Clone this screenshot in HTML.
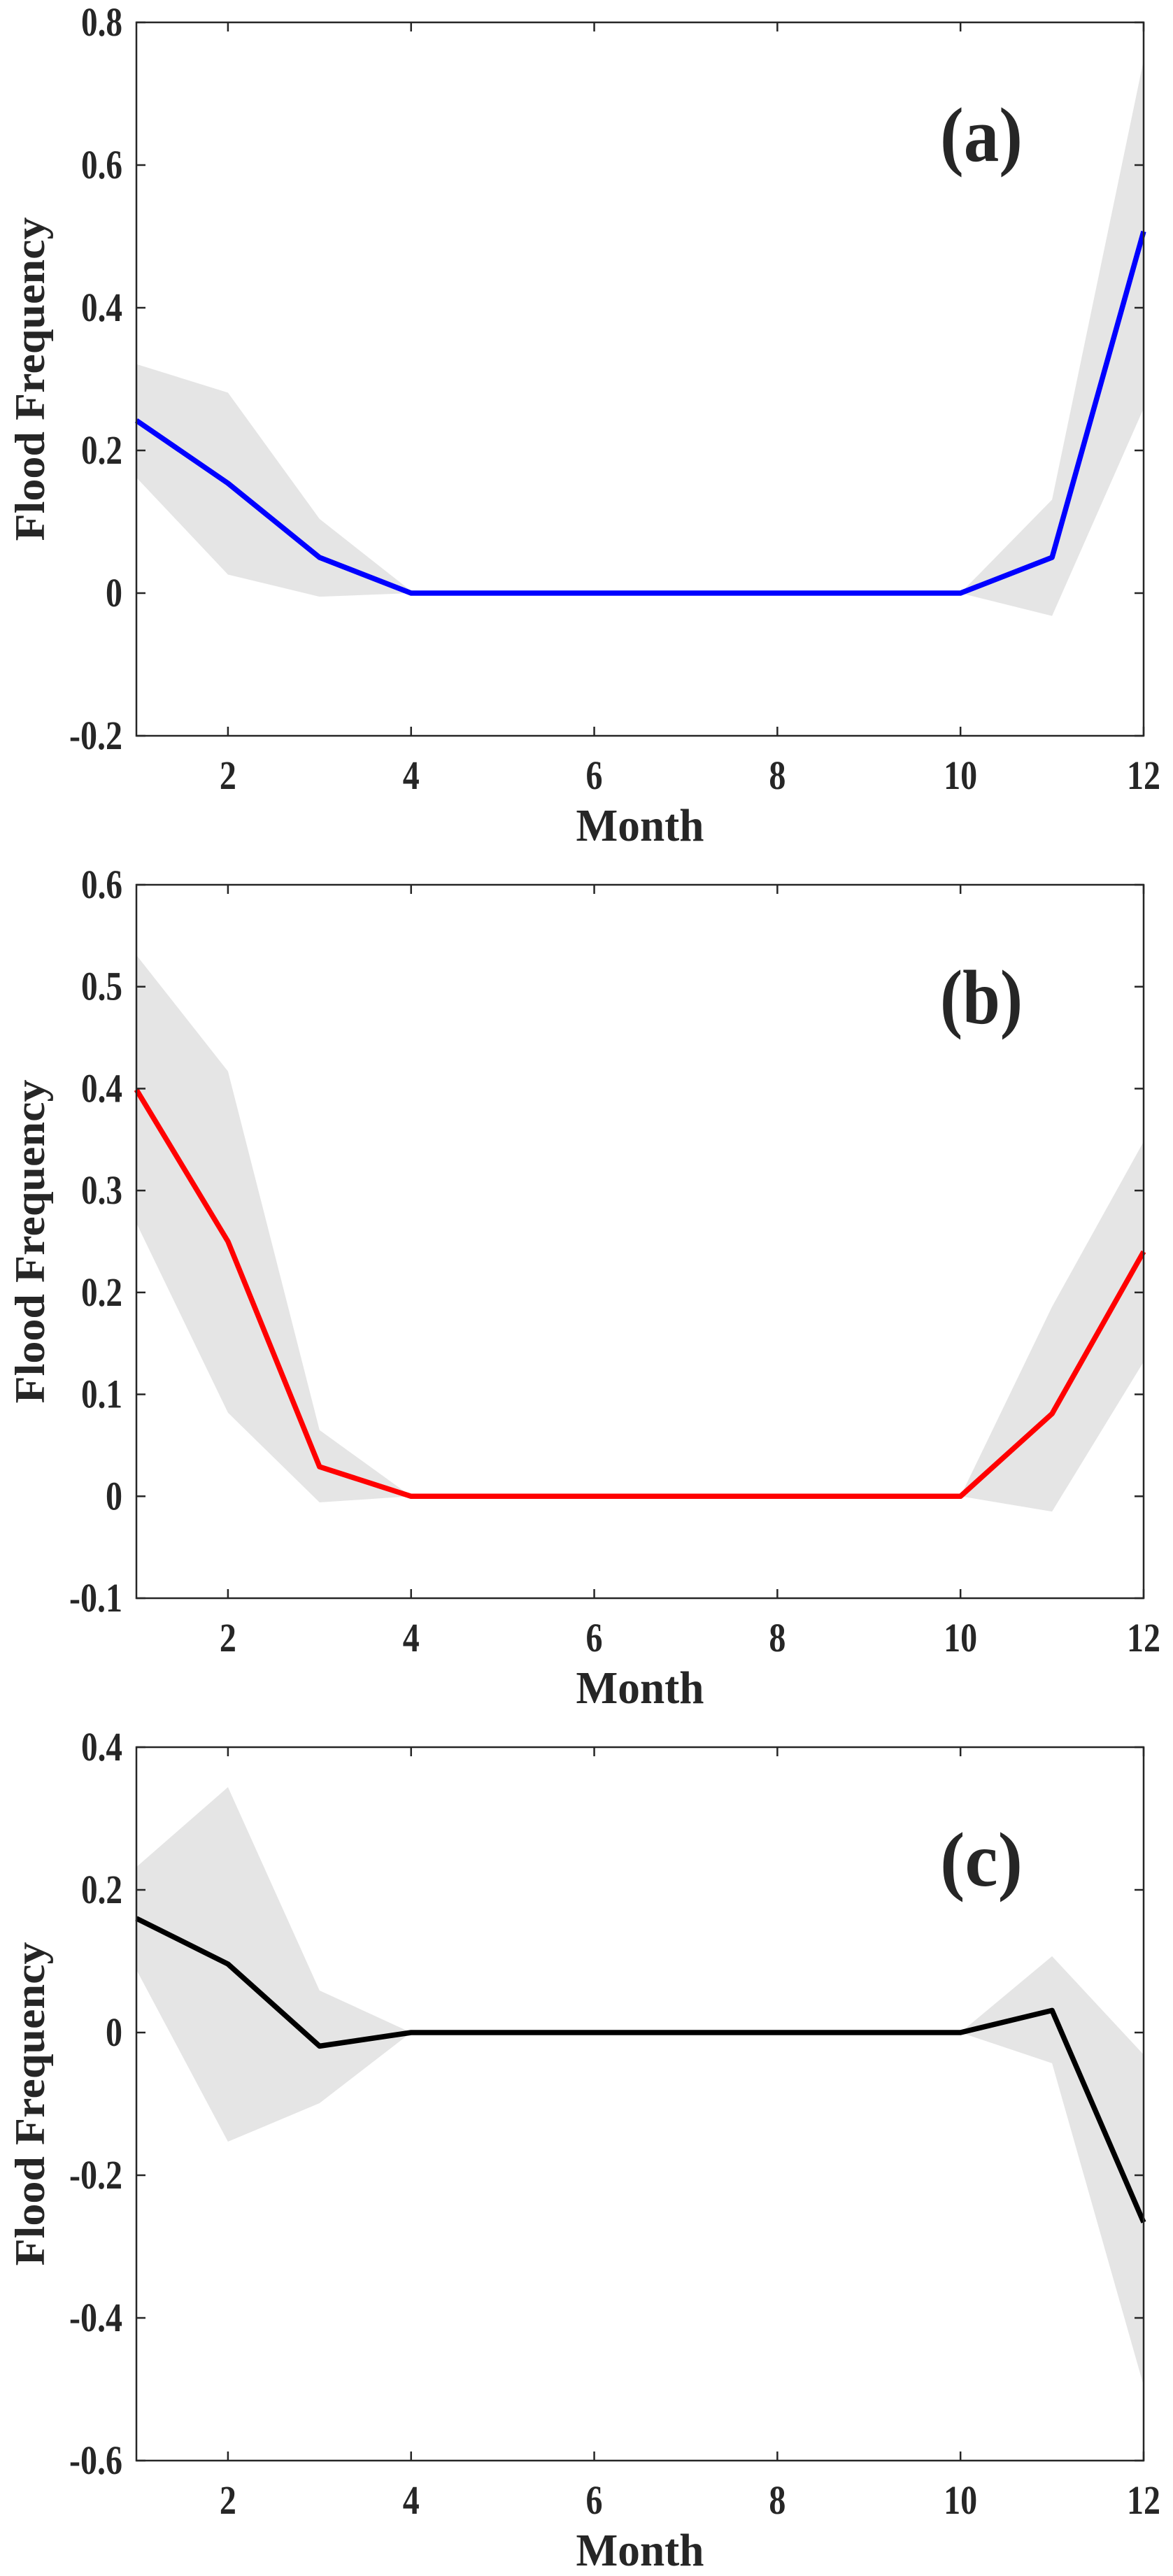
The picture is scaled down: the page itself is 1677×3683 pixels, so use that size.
<!DOCTYPE html>
<html><head><meta charset="utf-8"><style>
html,body{margin:0;padding:0;background:#fff;}
svg{display:block;}
text{font-family:"Liberation Serif","Times New Roman",serif;font-weight:bold;fill:#262626;}
</style></head><body>
<svg id="chart" width="1677" height="3683" viewBox="0 0 1677 3683" xmlns="http://www.w3.org/2000/svg"></svg>
<script>
const months = [1,2,3,4,5,6,7,8,9,10,11,12];
const xTicks = [2,4,6,8,10,12];
// panel a
const aLine  = [0.242,0.154,0.05,0,0,0,0,0,0,0,0.05,0.507];
const aUpper = [0.321,0.281,0.104,0.003,0,0,0,0,0,0.0,0.131,0.747];
const aLower = [0.162,0.026,-0.005,0,0,0,0,0,0,0,-0.032,0.259];
const aTicks = [-0.2,0,0.2,0.4,0.6,0.8];
const aTickLabels = ["-0.2","0","0.2","0.4","0.6","0.8"];
// panel b
const bLine  = [0.399,0.25,0.029,0,0,0,0,0,0,0,0.081,0.24];
const bUpper = [0.531,0.417,0.065,0,0,0,0,0,0,0,0.186,0.348];
const bLower = [0.268,0.082,-0.006,0,0,0,0,0,0,0,-0.015,0.132];
const bTicks = [-0.1,0,0.1,0.2,0.3,0.4,0.5,0.6];
const bTickLabels = ["-0.1","0","0.1","0.2","0.3","0.4","0.5","0.6"];
// panel c
const cLine  = [0.16,0.096,-0.019,0,0,0,0,0,0,0,0.031,-0.266];
const cUpper = [0.232,0.344,0.059,0,0,0,0,0,0,0,0.107,-0.031];
const cLower = [0.088,-0.153,-0.099,0,0,0,0,0,0,0,-0.043,-0.495];
const cTicks = [-0.6,-0.4,-0.2,0,0.2,0.4];
const cTickLabels = ["-0.6","-0.4","-0.2","0","0.2","0.4"];

const NS="http://www.w3.org/2000/svg";
const svg=document.getElementById('chart');
function mk(tag,attrs,parent){const e=document.createElementNS(NS,tag);for(const k in attrs)e.setAttribute(k,attrs[k]);(parent||svg).appendChild(e);return e;}
function tw(s){let w=0;for(const c of String(s)){w+= c==='.'?11 : c==='-'?17 : 24;}return w;}

function panel(id,top,yMin,yMax,line,upper,lower,ticks,tickLabels,color,label){
  const L=195,R=1635,T=top,B=top+1020;
  const g=mk('g',{});
  
  
  const x=m=>L+(m-1)/11*(R-L);
  const y=v=>B-(v-yMin)/(yMax-yMin)*(B-T);
  let d='';
  months.forEach((m,i)=>{d+=(i?'L':'M')+x(m)+','+y(upper[i]);});
  for(let i=months.length-1;i>=0;i--)d+='L'+x(months[i])+','+y(lower[i]);
  const band=mk('path',{d:d+'Z',fill:'#e5e5e5',stroke:'none'},g);
  
  
  let ld='';
  months.forEach((m,i)=>{ld+=(i?'L':'M')+x(m)+','+y(line[i]);});
  const ln=mk('path',{d:ld,fill:'none',stroke:color,'stroke-width':7.5,'stroke-linejoin':'round'},g);
  
  
  const frame=mk('rect',{x:L,y:T,width:R-L,height:B-T,fill:'none',stroke:'#262626','stroke-width':2.5},g);
  
  
  xTicks.forEach(t=>{
    mk('line',{x1:x(t),x2:x(t),y1:B,y2:B-13,stroke:'#262626','stroke-width':2.5},g);
    mk('line',{x1:x(t),x2:x(t),y1:T,y2:T+13,stroke:'#262626','stroke-width':2.5},g);
    const tx=mk('text',{x:x(t),y:B+76,'text-anchor':'middle','font-size':58,textLength:tw(t),lengthAdjust:'spacingAndGlyphs'},g);
    tx.textContent=t;
    
    
  });
  ticks.forEach((t,i)=>{
    mk('line',{x1:L,x2:L+13,y1:y(t),y2:y(t),stroke:'#262626','stroke-width':2.5},g);
    mk('line',{x1:R,x2:R-13,y1:y(t),y2:y(t),stroke:'#262626','stroke-width':2.5},g);
    const ty=mk('text',{x:175,y:y(t)+19,'text-anchor':'end','font-size':58,textLength:tw(tickLabels[i]),lengthAdjust:'spacingAndGlyphs'},g);
    ty.textContent=tickLabels[i];
    
    
  });
  const xt=mk('text',{x:(L+R)/2,y:B+150,'text-anchor':'middle','font-size':66,textLength:183,lengthAdjust:'spacingAndGlyphs'},g);
  xt.textContent='Month';
  
  
  const yt=mk('text',{x:0,y:0,'text-anchor':'middle','font-size':60,textLength:463,lengthAdjust:'spacingAndGlyphs',transform:'translate(63,'+((T+B)/2)+') rotate(-90)'},g);
  yt.textContent='Flood Frequency';
  
  
  const pl=mk('text',{x:1403,y:T+198,'text-anchor':'middle','font-size':110,fill:'#000',textLength:118,lengthAdjust:'spacingAndGlyphs'},g);
  pl.textContent=label;
  
  
}
panel('a',32,-0.2,0.8,aLine,aUpper,aLower,aTicks,aTickLabels,'#0000ff','(a)');
panel('b',1265,-0.1,0.6,bLine,bUpper,bLower,bTicks,bTickLabels,'#ff0000','(b)');
panel('c',2498,-0.6,0.4,cLine,cUpper,cLower,cTicks,cTickLabels,'#000000','(c)');
</script>
</body></html>
